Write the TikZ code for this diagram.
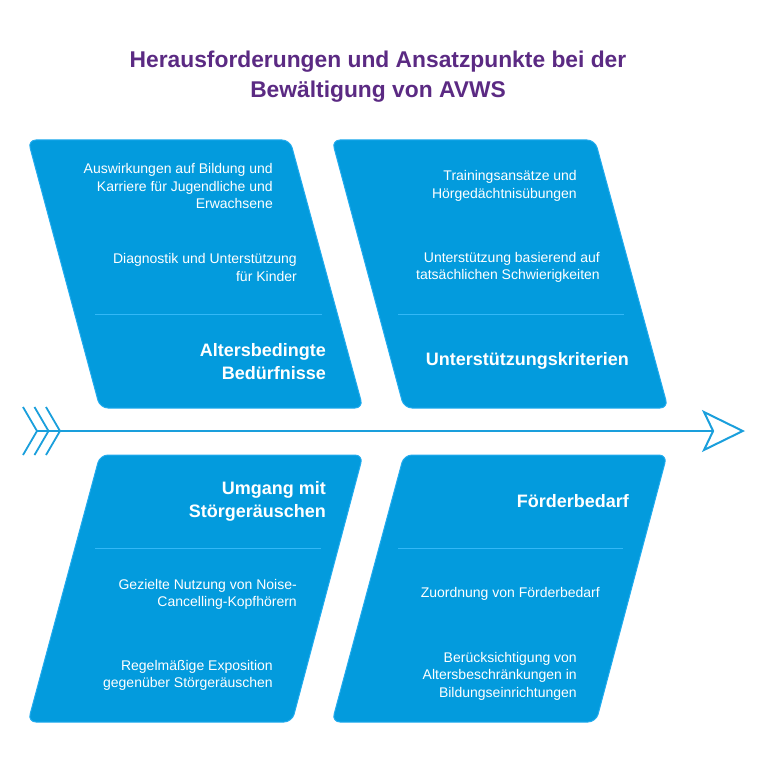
\documentclass[tikz,border=0pt]{standalone}
\usepackage{fontspec}
\setmainfont{Liberation Sans}
\usetikzlibrary{arrows.meta, positioning}
\definecolor{boxblue}{HTML}{039BDD}
\definecolor{edgeblue}{HTML}{22ABEE}
\definecolor{ruleblue}{HTML}{33B8F7}
\definecolor{arrowblue}{HTML}{1A9FDC}
\definecolor{titlepurple}{HTML}{5B2A83}
\tikzset{
	box/.style={fill=boxblue, draw=edgeblue, line width=1pt, rounded corners=8pt},
	item/.style={text=white, align=right, anchor=east, inner sep=0pt, font=\fontsize{14}{17.5}\selectfont},
	heading/.style={text=white, align=right, anchor=east, inner sep=0pt, font=\fontsize{18}{23}\selectfont\bfseries},
	divider/.style={draw=ruleblue, line width=1pt},
	spine/.style={draw=arrowblue, line width=2pt}
}
\begin{document}
\begin{tikzpicture}[x=1pt, y=-1pt]
		\useasboundingbox (0,0) rectangle (768,770);
		\node[text=titlepurple, align=center, font=\fontsize{22.8}{30}\selectfont\bfseries] (title) at (378,77) {Herausforderungen und Ansatzpunkte bei der\\Bewältigung von AVWS};
		% the four boxes
		\draw[box] (28,140) -- (290,140) -- (363,408) -- (100,408) -- cycle;
		\draw[box] (332,140) -- (595,140) -- (668,408) -- (404,408) -- cycle;
		\draw[box] (100,455) -- (363,455) -- (292,722) -- (28,722) -- cycle;
		\draw[box] (404,455) -- (667,455) -- (596,722) -- (332,722) -- cycle;
		\foreach \y/\xa/\xb in {314/95/322, 314/398/624, 548/95/321, 548/398/623}
			\draw[divider] (\xa,\y) -- (\xb,\y);
		% top left
		\node[item] (alter1) at (273,186) {Auswirkungen auf Bildung und\\Karriere für Jugendliche und\\Erwachsene};
		\node[item] (alter2) at (297,267.5) {Diagnostik und Unterstützung\\für Kinder};
		\node[heading] (alter) at (326,361.5) {Altersbedingte\\Bedürfnisse};
		% top right
		\node[item] (krit1) at (577,186) {Trainingsansätze und\\Hörgedächtnisübungen};
		\node[item] (krit2) at (600,267.5) {Unterstützung basierend auf\\tatsächlichen Schwierigkeiten};
		\node[heading] (krit) at (629,361) {Unterstützungskriterien};
		% bottom left
		\node[heading] (laerm) at (326,501.5) {Umgang mit\\Störgeräuschen};
		\node[item] (laerm1) at (297,594.5) {Gezielte Nutzung von Noise-\\Cancelling-Kopfhörern};
		\node[item] (laerm2) at (273,675.5) {Regelmäßige Exposition\\gegenüber Störgeräuschen};
		% bottom right
		\node[heading] (foerder) at (629,501) {Förderbedarf};
		\node[item] (foerder1) at (600,594) {Zuordnung von Förderbedarf};
		\node[item] (foerder2) at (577,676) {Berücksichtigung von\\Altersbeschränkungen in\\Bildungseinrichtungen};
		% spine
		\coordinate (tail) at (37,431);
		\coordinate (head) at (745,431);
		\draw[spine, -{Stealth[open, length=43pt, width=42pt, inset=10pt]}] (tail) -- (head);
		\foreach \dx in {0,11.5,23}
			\draw[spine, line width=1.8pt] (23+\dx,407) -- (37+\dx,431) -- (23+\dx,455);
	\end{tikzpicture}
\end{document}
